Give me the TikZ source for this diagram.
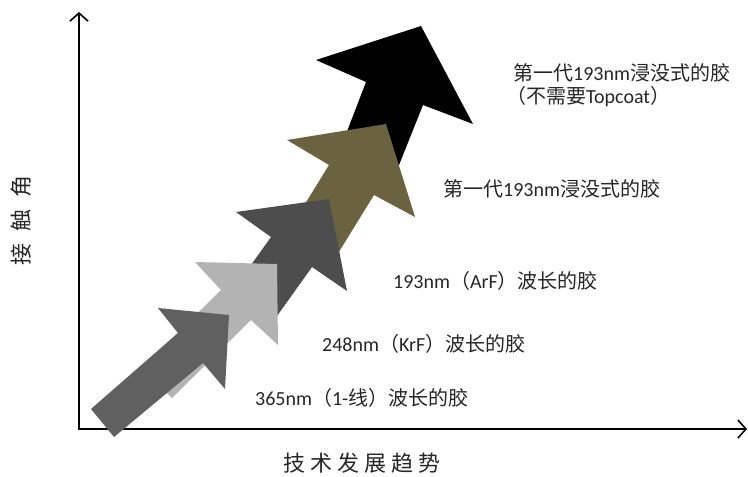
\documentclass[tikz,border=0pt]{standalone}
\usepackage{fontspec}
\setmainfont{Carlito}
\newfontfamily\cjk{Noto Sans CJK SC}
\usetikzlibrary{arrows.meta}
\definecolor{txt}{RGB}{38,38,38}
\definecolor{arrA}{RGB}{96,96,96}
\definecolor{arrB}{RGB}{179,179,179}
\definecolor{arrC}{RGB}{77,77,77}
\definecolor{arrD}{RGB}{107,99,64}
\definecolor{arrE}{RGB}{0,0,0}
\tikzset{
  axisline/.style={line width=1.8pt, draw=black, -{Straight Barb[length=8pt,width=18pt,line width=1.6pt]}},
  lab/.style={anchor=base west, inner sep=0pt, text=txt, font=\fontsize{20}{24}\selectfont},
  axlab/.style={inner sep=0pt, text=txt, font=\fontsize{22}{26}\selectfont\cjk},
  blockarrow/.style={draw=none}
}
\begin{document}
\begin{tikzpicture}[x=1pt,y=-1pt]
\useasboundingbox (0,0) rectangle (748,477);
% axes
\coordinate (O) at (79,429);
\coordinate (ytop) at (79,12);
\coordinate (xend) at (747,429);
\draw[axisline] (O) -- (ytop);
\draw[axisline] ([xshift=-0.9pt]O) -- (xend);
% arrows (back to front)
\fill[arrE] (316,60) -- (421,26) -- (473,124) -- (423,105) -- (397,170) -- (341,147) -- (366,82) -- cycle;
\fill[arrD] (287,140) -- (386,124) -- (415,217) -- (374,195) -- (337,255) -- (292,225) -- (329,165) -- cycle;
\fill[arrC] (236,212) -- (329,199) -- (347,291) -- (312,267) -- (277,316) -- (236,286) -- (271,237) -- cycle;
\fill[arrB] (195,262) -- (277,264) -- (278,345) -- (251,320) -- (172,398) -- (142,368) -- (221,290) -- cycle;
\fill[arrA] (91,409) -- (178,333) -- (158,308) -- (229,315) -- (225,389) -- (203,363) -- (114,437) -- cycle;
% labels
\node[lab] (t1) at (513,80) {{\cjk 第一代}193nm{\cjk 浸没式的胶}};
\node[lab] (t1b) at (506,103) {{\cjk （不需要}Topcoat{\cjk ）}};
\node[lab] (t2) at (443,196) {{\cjk 第一代}193nm{\cjk 浸没式的胶}};
\node[lab] (t3) at (393,288) {193nm{\cjk （}ArF{\cjk ）波长的胶}};
\node[lab] (t4) at (322,351) {248nm{\cjk （}KrF{\cjk ）波长的胶}};
\node[lab] (t5) at (255,405) {365nm{\cjk （}1-{\cjk 线）波长的胶}};
\node[axlab] (xl) at (362,463) {技\hspace{5pt}术\hspace{5pt}发\hspace{5pt}展\hspace{5pt}趋\hspace{5pt}势};
\node[axlab, rotate=90] (yl) at (21,220) {接\hspace{12pt}触\hspace{12pt}角};
\end{tikzpicture}
\end{document}
